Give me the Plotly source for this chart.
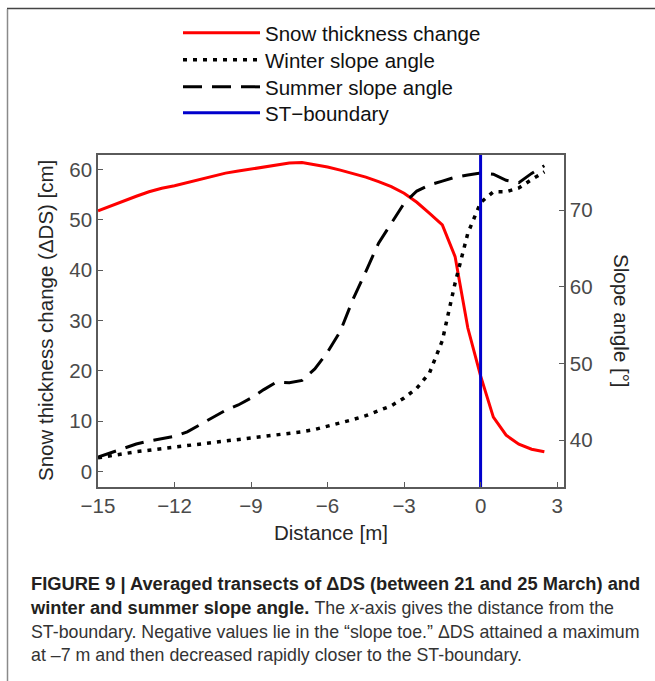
import plotly.graph_objects as go

# ---------------- data ----------------
distance = [-15, -14.5, -14, -13.5, -13, -12.5, -12, -11.5, -11, -10.5, -10, -9.5,
            -9, -8.5, -8, -7.5, -7, -6.5, -6, -5.5, -5, -4.5, -4, -3.5,
            -3, -2.5, -2, -1.5, -1, -0.5, 0, 0.5, 1, 1.5, 2, 2.5]

snow_change = [51.8, 52.8, 53.7, 54.7, 55.6, 56.3, 56.8, 57.4, 58.0, 58.7, 59.3, 59.7,
               60.1, 60.5, 60.9, 61.3, 61.4, 61.0, 60.5, 59.9, 59.2, 58.5, 57.6, 56.6,
               55.3, 53.5, 51.3, 49.0, 42.7, 28.5, 19.0, 10.8, 7.2, 5.4, 4.4, 3.9]

winter_slope = [37.7, 38.0, 38.3, 38.5, 38.7, 38.9, 39.1, 39.3, 39.5, 39.7, 39.9, 40.0,
                40.2, 40.4, 40.6, 40.8, 41.1, 41.4, 41.8, 42.2, 42.7, 43.2, 43.8, 44.5,
                45.5, 46.8, 48.8, 53.0, 60.5, 67.0, 71.0, 72.4, 72.4, 72.9, 74.0, 75.0]

summer_slope = [37.8, 38.4, 39.0, 39.5, 39.9, 40.2, 40.5, 41.1, 42.0, 43.0, 43.9, 44.6,
                45.5, 46.6, 47.6, 47.5, 47.8, 49.3, 51.5, 54.2, 58.4, 62.0, 65.7, 68.3,
                70.9, 72.5, 73.3, 73.8, 74.3, 74.6, 74.85, 74.7, 73.9, 73.6, 74.8, 75.8]

st_boundary_x = 0

series_names = ["Snow thickness change", "Winter slope angle", "Summer slope angle",
                "ST\u2212boundary"]

x_ticks = [-15, -12, -9, -6, -3, 0, 3]
left_ticks = [0, 10, 20, 30, 40, 50, 60]
right_ticks = [40, 50, 60, 70]

x_range = [-15, 3.27]
left_range = [-3.1, 62.9]
right_range = [33.9, 77.2]

REG = '<span style="font-size:17.8px;color:#333333">'
caption = ("<b>FIGURE 9 | Averaged transects of ΔDS (between 21 and 25 March) and</b><br>"
           "<b>winter and summer slope angle.</b> " + REG + "The <i>x</i>-axis gives the distance from the</span><br>"
           + REG + "ST-boundary. Negative values lie in the “slope toe.” ΔDS attained a maximum</span><br>"
           + REG + "at –7 m and then decreased rapidly closer to the ST-boundary.</span>")

# ---------------- figure ----------------
W, H = 655, 681
L, R, T, B = 98, 91, 155, 194
pw, ph = W - L - R, H - T - B


def px(xp):
    return (xp - L) / pw


def py(yp):
    return (H - B - yp) / ph


FONT = "Liberation Sans, Arial, Helvetica, sans-serif"
AXC = "#5a5a5a"
TXT = "#262626"

fig = go.Figure()
fig.add_trace(go.Scatter(x=distance, y=snow_change, mode="lines", name=series_names[0],
                         line=dict(color="#ff0000", width=3), yaxis="y", legend="legend"))
fig.add_trace(go.Scatter(x=distance, y=winter_slope, mode="lines", name=series_names[1],
                         line=dict(color="#000000", width=3.5, dash="4px,6px"), yaxis="y2",
                         legend="legend2"))
fig.add_trace(go.Scatter(x=distance, y=summer_slope, mode="lines", name=series_names[2],
                         line=dict(color="#000000", width=3, dash="19px,10px"), yaxis="y2",
                         legend="legend3"))
fig.add_trace(go.Scatter(x=[st_boundary_x, st_boundary_x], y=right_range, mode="lines",
                         name=series_names[3], line=dict(color="#0000cc", width=3), yaxis="y2",
                         legend="legend4"))


def legend_at(center_y):
    return dict(xref="container", yref="container", x=178 / W, y=1 - center_y / H,
                xanchor="left", yanchor="middle", bgcolor="rgba(0,0,0,0)",
                font=dict(size=20.5, color="#111111"), itemwidth=77)


fig.update_layout(
    width=W, height=H,
    margin=dict(l=L, r=R, t=T, b=B, autoexpand=False),
    paper_bgcolor="white", plot_bgcolor="white",
    font=dict(family=FONT, size=20, color=TXT),
    showlegend=True,
    legend=legend_at(33), legend2=legend_at(60), legend3=legend_at(87), legend4=legend_at(113),
    xaxis=dict(range=x_range, tickvals=x_ticks, ticks="inside", ticklen=5, tickwidth=1.2,
               tickcolor=AXC, showline=True, linecolor=AXC, linewidth=1.5, mirror=True,
               showgrid=False, zeroline=False, tickfont=dict(size=20.5, color="#4a4a4a")),
    yaxis=dict(range=left_range, tickvals=left_ticks, ticks="inside", ticklen=5, tickwidth=1.2,
               tickcolor=AXC, showline=True, linecolor=AXC, linewidth=1.5,
               showgrid=False, zeroline=False, tickfont=dict(size=20.5, color="#4a4a4a")),
    yaxis2=dict(range=right_range, tickvals=right_ticks, overlaying="y", side="right",
                ticks="inside", ticklen=5, tickwidth=1.2, tickcolor=AXC, showline=True,
                linecolor=AXC, linewidth=1.5, showgrid=False, zeroline=False,
                tickfont=dict(size=20.5, color="#4a4a4a")),
)

# axis titles
fig.add_annotation(text="Snow thickness change (ΔDS) [cm]", xref="paper", yref="paper",
                   x=px(45), y=py(321), showarrow=False, textangle=-90,
                   font=dict(size=20.5, color=TXT), xanchor="center", yanchor="middle")
fig.add_annotation(text="Slope angle [°]", xref="paper", yref="paper",
                   x=px(622), y=py(321), showarrow=False, textangle=90,
                   font=dict(size=20.5, color=TXT), xanchor="center", yanchor="middle")
fig.add_annotation(text="Distance [m]", xref="paper", yref="paper",
                   x=px(331), y=py(532), showarrow=False,
                   font=dict(size=20.5, color=TXT), xanchor="center", yanchor="middle")

# caption
fig.add_annotation(text=caption, xref="paper", yref="paper", x=px(28), y=py(571),
                   showarrow=False, align="left", xanchor="left", yanchor="top",
                   font=dict(size=18.3, color="#231f20", family=FONT))

# page frame
fig.add_shape(type="line", xref="paper", yref="paper", x0=px(7), x1=px(W), y0=py(8.5), y1=py(8.5),
              line=dict(color="#444444", width=1.5))
fig.add_shape(type="line", xref="paper", yref="paper", x0=px(7.5), x1=px(7.5), y0=py(9), y1=py(H),
              line=dict(color="#8a8a8a", width=1.5))

fig.write_html("out.html")
